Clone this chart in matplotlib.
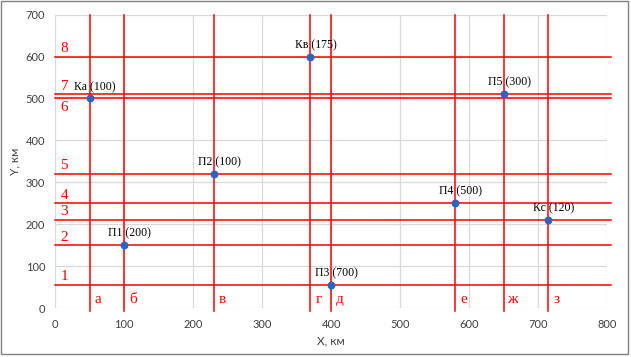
import matplotlib.pyplot as plt
from matplotlib.patches import Rectangle

# points: name, load, x, y
names = ["Ка", "Кв", "П2", "П1", "П3", "П4", "Кс", "П5"]
loads = [100, 175, 100, 200, 700, 500, 120, 300]
xs = [50, 370, 230, 100, 400, 580, 715, 650]
ys = [500, 600, 320, 150, 55, 250, 210, 510]

# cutting lines
h_labels = ["1", "2", "3", "4", "5", "6", "7", "8"]
h_levels = [55, 150, 210, 250, 320, 500, 510, 600]
v_labels = ["а", "б", "в", "г", "д", "е", "ж", "з"]
v_levels = [50, 100, 230, 370, 400, 580, 650, 715]

RED = "#ff0000"
SERIF = "Liberation Serif"

fig = plt.figure(figsize=(6.31, 3.57), dpi=100)
ax = fig.add_axes([0.0872, 0.137, 0.875, 0.822])

ax.set_xlim(0, 800)
ax.set_ylim(0, 700)
ax.set_xticks(range(0, 801, 100))
ax.set_yticks(range(0, 701, 100))
ax.grid(True, color="#d9d9d9", linewidth=0.9)
ax.set_axisbelow(True)
for s in ax.spines.values():
    s.set_visible(False)
ax.tick_params(length=0, labelsize=8, colors="#404040")
ax.tick_params(axis="x", pad=8)
ax.tick_params(axis="y", pad=7)
for lab in ax.get_xticklabels() + ax.get_yticklabels():
    lab.set_family("Lato")

ax.set_xlabel("X, км", fontsize=8.5, family="Lato", color="#404040", labelpad=4)
ax.set_ylabel("Y, км", fontsize=8.5, family="Lato", color="#404040", labelpad=4)

for lv, lb in zip(h_levels, h_labels):
    ax.plot([0, 805], [lv, lv], color=RED, lw=1.1, clip_on=False, zorder=2)
    if lb == "6":
        ax.text(8, lv - 6, lb, color=RED, fontsize=11, family=SERIF,
                ha="left", va="top")
    else:
        ax.text(8, lv + 4, lb, color=RED, fontsize=11, family=SERIF,
                ha="left", va="bottom")

for lv, lb in zip(v_levels, v_labels):
    ax.plot([lv, lv], [-8, 700], color=RED, lw=1.1, clip_on=False, zorder=2)
    ax.text(lv + 7, 12, lb, color=RED, fontsize=11, family=SERIF,
            ha="left", va="baseline")

ax.scatter(xs, ys, s=22, color="#2e64c0", zorder=3)
for n, l, x, y in zip(names, loads, xs, ys):
    ax.annotate(f"{n} ({l})", (x, y), xytext=(4, 4), textcoords="offset points",
                ha="center", va="bottom", fontsize=8.5, family=SERIF)

fig.patches.append(Rectangle((0.002, 0.008), 0.993, 0.988, transform=fig.transFigure,
                             fill=False, edgecolor="#808080", linewidth=1.0))

fig.savefig("out.png", dpi=100)
